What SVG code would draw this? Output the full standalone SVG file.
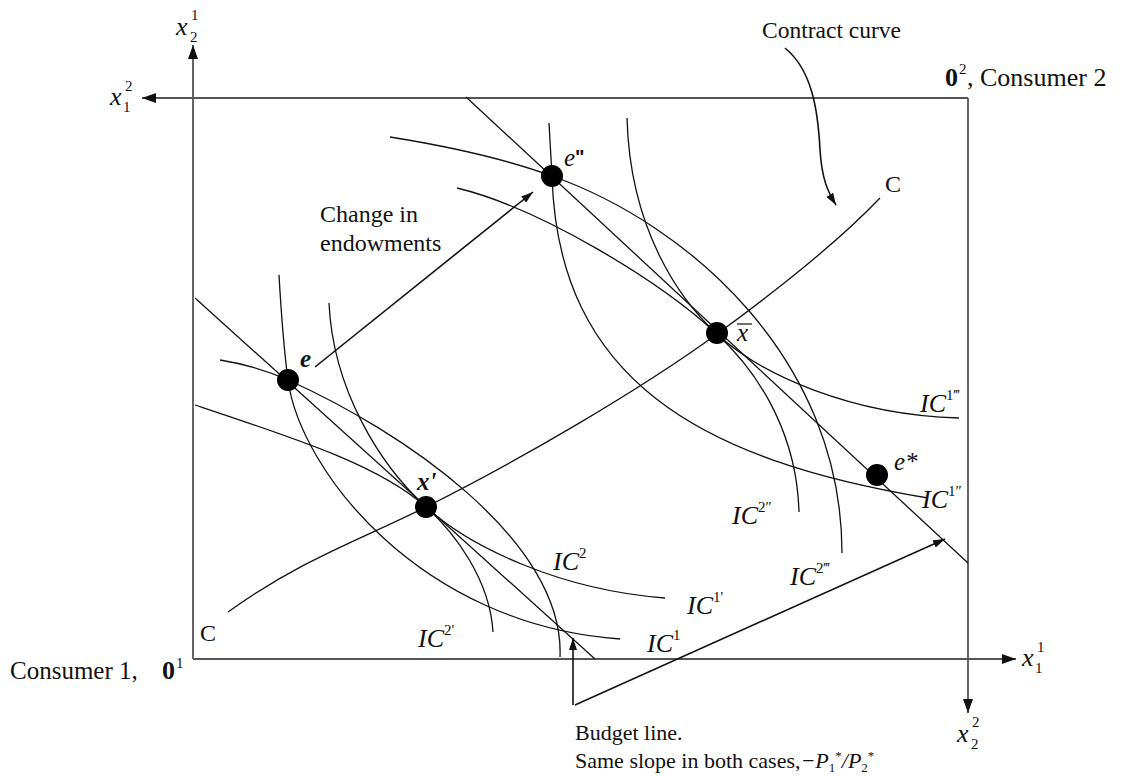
<svg xmlns="http://www.w3.org/2000/svg" width="1123" height="776" viewBox="0 0 1123 776">
<defs>
<style>
.box{fill:none;stroke:#555;stroke-width:1.8}
.cv{fill:none;stroke:#111;stroke-width:1.3}
.ar{fill:none;stroke:#111;stroke-width:1.6}
.t{font-family:"Liberation Serif","Times New Roman",serif;font-size:22px;fill:#111}
.t24{font-family:"Liberation Serif","Times New Roman",serif;font-size:24px;fill:#111}
.t26{font-family:"Liberation Serif","Times New Roman",serif;font-size:26px;fill:#111}
.mi{font-family:"Liberation Serif","Times New Roman",serif;font-style:italic;font-size:26px;fill:#111}
.ss{font-family:"Liberation Serif","Times New Roman",serif;font-size:15px;fill:#111}
.lb{font-family:"Liberation Serif","Times New Roman",serif;font-style:italic;font-size:25px;fill:#111}
.dot{fill:#000}
</style>
<marker id="axh" viewBox="0 0 14 10" refX="14" refY="5" markerWidth="14" markerHeight="10" orient="auto" markerUnits="userSpaceOnUse"><path d="M0,0 L14,5 L0,10 z" fill="#111"/></marker>
<marker id="sh" viewBox="0 0 12 8" refX="12" refY="4" markerWidth="12" markerHeight="8" orient="auto" markerUnits="userSpaceOnUse"><path d="M0,0 L12,4 L0,8 z" fill="#111"/></marker>
</defs>
<rect width="1123" height="776" fill="#fff"/>

<g id="axes">
<line class="box" x1="193" y1="659" x2="193" y2="45" marker-end="url(#axh)"/>
<line class="box" x1="968" y1="98" x2="142" y2="98" marker-end="url(#axh)"/>
<line class="box" x1="968" y1="98" x2="968" y2="713" marker-end="url(#axh)"/>
<line class="box" x1="193" y1="659" x2="1016" y2="659" marker-end="url(#axh)"/>
<text class="mi" x="176" y="35">x</text><text class="ss" x="191" y="20">1</text><text class="ss" x="190" y="42">2</text>
<text class="mi" x="110" y="105">x</text><text class="ss" x="125" y="91">2</text><text class="ss" x="123" y="112">1</text>
<text class="mi" x="1022" y="666">x</text><text class="ss" x="1037" y="652">1</text><text class="ss" x="1035" y="673">1</text>
<text class="mi" x="957" y="742">x</text><text class="ss" x="972" y="727">2</text><text class="ss" x="971" y="749">2</text>
<text class="t24" x="10" y="679" style="font-size:25px">Consumer 1,</text>
<text class="t26" x="162" y="679" font-weight="bold">0</text><text class="ss" x="176" y="668">1</text>
<text class="t26" x="945" y="86" font-weight="bold">0</text><text class="ss" x="959" y="74">2</text>
<text class="t26" x="967" y="86">, Consumer 2</text>
</g>

<g id="connectors">
<path id="budget-line-1" class="cv" d="M195,298 L595,659"/>
<path id="budget-line-2" class="cv" d="M466,97 L968,563"/>
<path id="contract-curve" class="cv" d="M228,612 C300,560 360,540 426,507 C520,460 640,390 717,334 C780,288 840,240 880,198"/>
<path id="IC1" class="cv" d="M279,275 C281,310 284,350 288,380 C300,470 420,625 620,639"/>
<path id="IC2" class="cv" d="M220,360 C245,364 268,371 288,380 C400,430 565,540 560,657"/>
<path id="IC1p" class="cv" d="M329,303 C333,390 380,465 426,507 C470,547 560,590 665,598"/>
<path id="IC2p" class="cv" d="M195,405 C300,440 380,466 426,507 C455,533 490,580 493,632"/>
<path id="IC1pp" class="cv" d="M549,123 C550,140 551,158 552,176 C558,380 700,460 928,498"/>
<path id="IC2ppp" class="cv" d="M390,137 C440,145 500,157 552,176 C690,225 842,360 842,553"/>
<path id="IC2pp" class="cv" d="M457,188 C540,208 660,281 717,334 C765,379 797,440 799,512"/>
<path id="IC1ppp" class="cv" d="M627,118 C630,230 680,300 717,334 C760,374 850,415 959,418"/>
<path class="ar" d="M315,367 L533,192" marker-end="url(#sh)"/>
<path class="ar" d="M785,48 C812,70 818,110 820,150 C822,180 828,192 836,205" marker-end="url(#sh)"/>
<path class="ar" d="M573,705 L573,638" marker-end="url(#sh)"/>
<path class="ar" d="M575,705 L945,539" marker-end="url(#sh)"/>
</g>

<g id="node-e"><circle class="dot" cx="288" cy="380" r="11"/><text class="lb" x="300" y="367" font-weight="bold">e</text></g>
<g id="node-e2"><circle class="dot" cx="552" cy="176" r="11"/><text class="lb" x="564" y="166">e<tspan font-style="normal" font-weight="bold" font-family="Liberation Sans, sans-serif" font-size="20" dy="-2">"</tspan></text></g>
<g id="node-xbar"><circle class="dot" cx="717" cy="333" r="11"/><text class="lb" x="737" y="341">x</text><line x1="737" y1="324" x2="752" y2="324" stroke="#111" stroke-width="1.2"/></g>
<g id="node-estar"><circle class="dot" cx="877" cy="475" r="11"/><text class="lb" x="894" y="470">e*</text></g>
<g id="node-xprime"><circle class="dot" cx="426" cy="507" r="11"/><text class="lb" x="417" y="490" font-weight="bold">x'</text></g>

<g id="labels">
<text class="t24" x="762" y="38" style="font-size:23.5px">Contract curve</text>
<text class="t24" x="885" y="192">C</text>
<text class="t24" x="200" y="641">C</text>
<text class="t24" x="320" y="222">Change in</text>
<text class="t24" x="320" y="251">endowments</text>
<text class="t" x="575" y="740">Budget line.</text>
<text class="t" x="575" y="768">Same slope in both cases,<tspan font-style="italic">−P</tspan><tspan font-size="13" dy="4">1</tspan><tspan font-size="13" dy="-12">*</tspan><tspan font-style="italic" dy="8">/P</tspan><tspan font-size="13" dy="4">2</tspan><tspan font-size="13" dy="-12">*</tspan></text>
<text class="mi" x="920" y="412">IC<tspan font-size="15" font-style="normal" dy="-12">1‴</tspan></text>
<text class="mi" x="922" y="508">IC<tspan font-size="15" font-style="normal" dy="-12">1″</tspan></text>
<text class="mi" x="732" y="524">IC<tspan font-size="15" font-style="normal" dy="-12">2″</tspan></text>
<text class="mi" x="790" y="585">IC<tspan font-size="15" font-style="normal" dy="-12">2‴</tspan></text>
<text class="mi" x="553" y="570">IC<tspan font-size="15" font-style="normal" dy="-12">2</tspan></text>
<text class="mi" x="687" y="614">IC<tspan font-size="15" font-style="normal" dy="-12">1'</tspan></text>
<text class="mi" x="647" y="652">IC<tspan font-size="15" font-style="normal" dy="-12">1</tspan></text>
<text class="mi" x="418" y="647">IC<tspan font-size="15" font-style="normal" dy="-12">2'</tspan></text>
</g>
</svg>
